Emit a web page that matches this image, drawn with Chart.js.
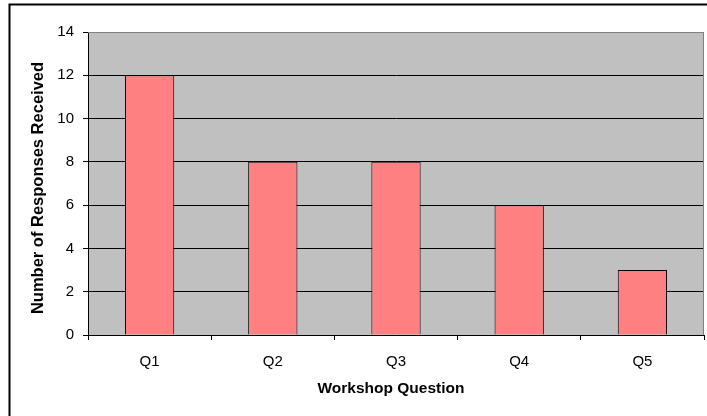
<!DOCTYPE html>
<html>
<head>
<meta charset="utf-8">
<script src="https://cdn.jsdelivr.net/npm/chart.js@4/dist/chart.umd.min.js"></script>
<style>
  html, body { margin: 0; padding: 0; background: #fff; }
  #wrap { width: 707px; height: 416px; position: relative; }
</style>
</head>
<body>
<div id="wrap"><canvas id="chart" width="707" height="416"></canvas></div>
<script>
// Workshop responses per question
const categories = ['Q1', 'Q2', 'Q3', 'Q4', 'Q5'];
const responses = [12, 8, 8, 6, 3];
const yTicks = [0, 2, 4, 6, 8, 10, 12, 14];
const xTitle = 'Workshop Question';
const yTitle = 'Number of Responses Received';

const FONT = 'Arial, "Liberation Sans", sans-serif';

// Gray plot background, outer frame, light plot edges and axis titles
const framePlugin = {
  id: 'frame',
  beforeDraw(chart) {
    const { ctx, chartArea: a } = chart;
    ctx.save();
    ctx.fillStyle = '#fff';
    ctx.fillRect(0, 0, chart.width, chart.height);
    ctx.fillStyle = '#C0C0C0';
    ctx.fillRect(a.left, a.top, a.right - a.left, a.bottom - a.top);
    // outer chart frame
    ctx.strokeStyle = '#000';
    ctx.lineWidth = 2;
    ctx.beginPath();
    ctx.moveTo(9.5, chart.height);
    ctx.lineTo(9.5, 4.5);
    ctx.lineTo(chart.width, 4.5);
    ctx.stroke();
    ctx.restore();
  },
  afterDatasetsDraw(chart) {
    const { ctx, chartArea: a } = chart;
    ctx.save();
    ctx.strokeStyle = '#808080';
    ctx.lineWidth = 1;
    ctx.beginPath();
    ctx.moveTo(a.left, a.top + 0.5);
    ctx.lineTo(a.right - 0.5, a.top + 0.5);
    ctx.lineTo(a.right - 0.5, a.bottom);
    ctx.stroke();
    ctx.restore();
  },
  afterDraw(chart) {
    const { ctx } = chart;
    ctx.save();
    ctx.fillStyle = '#000';
    ctx.textAlign = 'center';
    ctx.textBaseline = 'middle';
    ctx.font = 'bold 15.5px ' + FONT;
    ctx.fillText(xTitle, 391, 389);
    ctx.translate(38.5, 188);
    ctx.rotate(-Math.PI / 2);
    ctx.font = 'bold 16.5px ' + FONT;
    ctx.fillText(yTitle, 0, 0);
    ctx.restore();
  }
};

new Chart(document.getElementById('chart'), {
  type: 'bar',
  data: {
    labels: categories,
    datasets: [{
      data: responses,
      backgroundColor: '#FF8080',
      borderColor: '#000',
      borderWidth: 1,
      barPercentage: 0.4,
      categoryPercentage: 1
    }]
  },
  options: {
    responsive: false,
    animation: false,
    devicePixelRatio: 1,
    layout: { padding: { left: 10, top: 32, right: 3, bottom: 0 } },
    plugins: { legend: { display: false }, tooltip: { enabled: false } },
    scales: {
      x: {
        afterFit(s) { s.height = 81; },
        grid: {
          offset: true,
          drawOnChartArea: false,
          drawTicks: true,
          tickLength: 5,
          color: '#000'
        },
        border: { display: true, color: '#000', width: 1 },
        ticks: { color: '#000', padding: 13, font: { family: FONT, size: 15 } }
      },
      y: {
        min: 0,
        max: 14,
        afterFit(s) { s.width = 78; },
        afterBuildTicks(s) { s.ticks = yTicks.map(v => ({ value: v })); },
        grid: {
          color: ctx => (ctx.tick && ctx.tick.value === 14 ? '#808080' : '#000'),
          lineWidth: 1,
          drawTicks: true,
          tickLength: 5,
          tickColor: '#000'
        },
        border: { display: true, color: '#000', width: 1 },
        ticks: { color: '#000', padding: 9, font: { family: FONT, size: 15 } }
      }
    }
  },
  plugins: [framePlugin]
});
</script>
</body>
</html>
